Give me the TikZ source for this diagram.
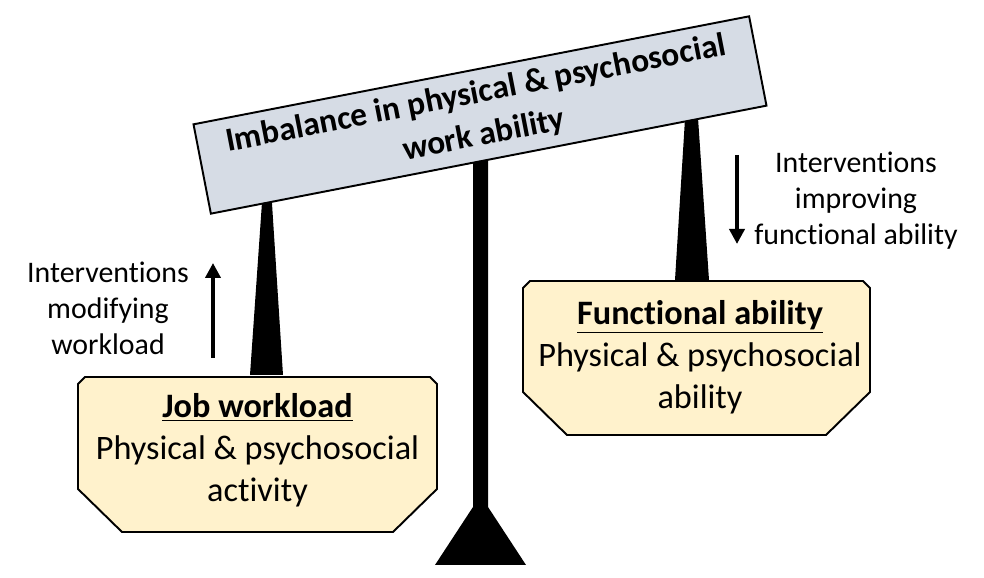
\documentclass[tikz,border=0pt]{standalone}
\usepackage{fontspec}
\setmainfont{Carlito}[Ligatures=NoCommon]
\usetikzlibrary{arrows.meta}
\definecolor{beamfill}{HTML}{D6DCE5}
\definecolor{platefill}{HTML}{FFF2CC}
\def\plate(#1,#2)(#3,#4){\draw[plate] (#1+0.14,#4) -- (#3-0.14,#4) -- (#3,#4-0.14) -- (#3,#2+0.86) -- (#3-0.88,#2) -- (#1+0.88,#2) -- (#1,#2+0.86) -- (#1,#4-0.14) -- cycle;}

\begin{document}
\begin{tikzpicture}[
	beam/.style={draw=black, line width=1.1pt, fill=beamfill, rotate=11, minimum width=11.32cm, minimum height=1.82cm, align=center, font=\fontsize{19}{24}\selectfont\bfseries},
	plate/.style={draw=black, line width=1.1pt, fill=platefill},
	platetext/.style={align=center, font=\fontsize{19.5}{24}\selectfont},
	sidetext/.style={align=center, font=\fontsize{17}{20.5}\selectfont},
	push/.style={line width=2.1pt, -{Triangle[width=0.3cm,length=0.3cm]}}
	]
		%%%%% START %%%%%
		\useasboundingbox (0,0) rectangle (19.68,11.56);
		
		% stand
		\fill (9.46,1.42) -- (9.46,9.0) -- (9.76,9.0) -- (9.76,1.42) -- (10.52,0.26) -- (8.70,0.26) -- cycle;
		
		% hangers
		\fill (5.26,7.8) -- (5.42,7.8) -- (5.66,4.06) -- (5.00,4.06) -- cycle;
		\fill (13.72,9.5) -- (13.94,9.5) -- (14.18,5.96) -- (13.50,5.96) -- cycle;
		
		\node[beam] (imbalance) at (9.6,9.26) {Imbalance in physical \& psychosocial\\work ability};
		
		\plate(1.56,0.92)(8.74,4.02);
		\plate(10.46,2.86)(17.40,5.94);
		
		\node[platetext] (workload) at (5.15,2.55) {\underline{\textbf{Job workload}}\\Physical \& psychosocial\\activity};
		\node[platetext] (ability) at (14.0,4.42) {\underline{\textbf{Functional ability}}\\Physical \& psychosocial\\ability};
		
		\node[sidetext] (modify) at (2.16,5.40) {Interventions\\modifying\\workload};
		\node[sidetext] (improve) at (17.12,7.54) {Interventions\\improving\\functional ability};
		
		\coordinate (up1) at (4.26,4.40);
		\coordinate (up2) at (4.26,6.30);
		\coordinate (down1) at (14.74,8.46);
		\coordinate (down2) at (14.74,6.68);
		\draw[push] (up1) -- (up2);
		\draw[push] (down1) -- (down2);
		%%%%% END %%%%%
	\end{tikzpicture}
\end{document}
